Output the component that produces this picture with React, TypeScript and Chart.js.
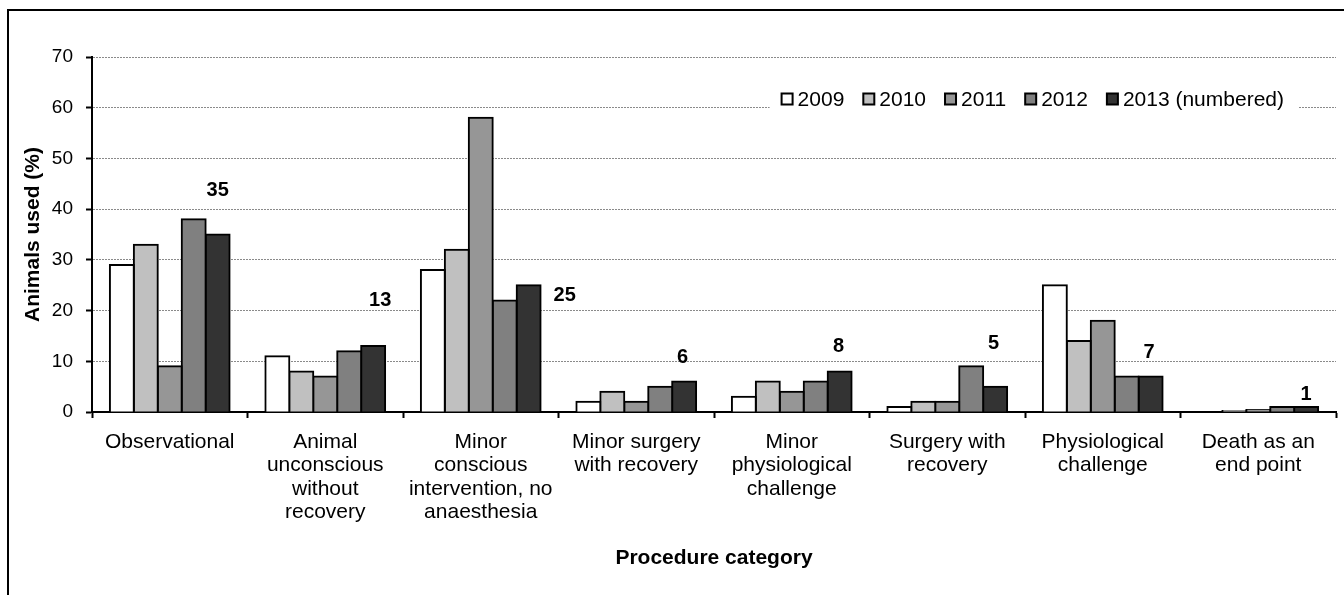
import React, { useEffect, useRef } from "react";
import { Chart, registerables } from "chart.js";

Chart.register(...registerables);

const categories: (string | string[])[] = [
  "Observational",
  ["Animal", "unconscious", "without", "recovery"],
  ["Minor", "conscious", "intervention, no", "anaesthesia"],
  ["Minor surgery", "with recovery"],
  ["Minor", "physiological", "challenge"],
  ["Surgery with", "recovery"],
  ["Physiological", "challenge"],
  ["Death as an", "end point"],
];

const seriesNames = ["2009", "2010", "2011", "2012", "2013 (numbered)"];

const values2009 = [29, 11, 28, 2, 3, 1, 25, 0];
const values2010 = [33, 8, 32, 4, 6, 2, 14, 0.2];
const values2011 = [9, 7, 58, 2, 4, 2, 18, 0.4];
const values2012 = [38, 12, 22, 5, 6, 9, 7, 1];
const values2013 = [35, 13, 25, 6, 8, 5, 7, 1];

const yTickValues = [0, 10, 20, 30, 40, 50, 60, 70];

const yTitle = "Animals used (%)";
const xTitle = "Procedure category";

const seriesColors = ["#FFFFFF", "#C0C0C0", "#969696", "#808080", "#333333"];

// pixel offsets of the numbered labels relative to the top-centre of each 2013 bar
const labelOffsets: [number, number][] = [
  [0, -44],
  [7, -46],
  [36, 10],
  [-1.5, -24],
  [-1, -24.5],
  [-1.5, -43],
  [-1.5, -24.5],
  [0, -12],
];

const FONT = "'Liberation Sans', Arial, Helvetica, sans-serif";

const framePlugin = {
  id: "frame",
  beforeDraw(chart: any) {
    const ctx = chart.ctx;
    ctx.save();
    ctx.fillStyle = "#FFFFFF";
    ctx.fillRect(0, 0, chart.width, chart.height);
    ctx.strokeStyle = "#000";
    ctx.lineWidth = 2;
    ctx.beginPath();
    ctx.moveTo(8, chart.height + 2);
    ctx.lineTo(8, 10);
    ctx.lineTo(chart.width + 2, 10);
    ctx.stroke();
    ctx.restore();
  },
};

const labelsPlugin = {
  id: "numberLabels",
  afterDatasetsDraw(chart: any) {
    const ctx = chart.ctx;
    const meta = chart.getDatasetMeta(4);
    ctx.save();
    ctx.font = `bold 20px ${FONT}`;
    ctx.fillStyle = "#000";
    ctx.textAlign = "center";
    ctx.textBaseline = "middle";
    meta.data.forEach((bar: any, i: number) => {
      const [dx, dy] = labelOffsets[i];
      ctx.fillText(String(values2013[i]), bar.x + dx, bar.y + dy);
    });
    ctx.restore();
  },
};

const legendPlugin = {
  id: "insideLegend",
  afterDraw(chart: any) {
    const ctx = chart.ctx;
    const area = chart.chartArea;
    const ds = chart.data.datasets;
    ctx.save();
    ctx.font = `21px ${FONT}`;
    const box = 11;
    const gapBoxText = 5;
    const gapItem = 19;
    const widths = ds.map((d: any) => ctx.measureText(d.label).width);
    let total = 0;
    widths.forEach((w: number, i: number) => {
      total += box + gapBoxText + w + (i < widths.length - 1 ? gapItem : 0);
    });
    const right = area.right - 52;
    const left = right - total;
    const cy = 99;
    ctx.fillStyle = "#FFFFFF";
    ctx.fillRect(left - 12, cy - 13, total + 12 + 15, 26);
    let x = left;
    ds.forEach((d: any, i: number) => {
      ctx.fillStyle = d.backgroundColor;
      ctx.strokeStyle = "#000";
      ctx.lineWidth = 2;
      ctx.beginPath();
      ctx.rect(x, cy - box / 2, box, box);
      ctx.fill();
      ctx.stroke();
      ctx.fillStyle = "#000";
      ctx.textAlign = "left";
      ctx.textBaseline = "middle";
      ctx.fillText(d.label, x + box + gapBoxText, cy + 1);
      x += box + gapBoxText + widths[i] + gapItem;
    });
    ctx.restore();
  },
};

const titlesPlugin = {
  id: "axisTitles",
  afterDraw(chart: any) {
    const ctx = chart.ctx;
    const area = chart.chartArea;
    ctx.save();
    ctx.font = `bold 21px ${FONT}`;
    ctx.fillStyle = "#000";
    ctx.textAlign = "center";
    ctx.textBaseline = "middle";
    ctx.fillText(xTitle, (area.left + area.right) / 2, 558);
    ctx.translate(33, (area.top + area.bottom) / 2);
    ctx.rotate(-Math.PI / 2);
    ctx.fillText(yTitle, 0, 0);
    ctx.restore();
  },
};

export default function App() {
  const canvasRef = useRef<HTMLCanvasElement | null>(null);

  useEffect(() => {
    const canvas = canvasRef.current;
    if (!canvas) return;
    const seriesValues = [values2009, values2010, values2011, values2012, values2013];
    const chart = new Chart(canvas, {
      type: "bar",
      data: {
        labels: categories,
        datasets: seriesNames.map((name, i) => ({
          label: name,
          data: seriesValues[i],
          backgroundColor: seriesColors[i],
          borderColor: "#000000",
          borderWidth: 2,
          inflateAmount: 1,
          barPercentage: 1,
          categoryPercentage: 0.77,
        })),
      },
      options: {
        responsive: false,
        animation: false,
        devicePixelRatio: 1,
        layout: { padding: { top: 57, right: 8, left: 0, bottom: 0 } },
        plugins: {
          legend: { display: false },
          tooltip: { enabled: false },
          title: { display: false },
        },
        scales: {
          x: {
            offset: true,
            grid: {
              display: true,
              offset: true,
              drawOnChartArea: false,
              drawTicks: true,
              tickLength: 6,
              tickColor: "#000",
              tickWidth: 2,
            },
            border: { display: true, color: "#000", width: 2 },
            ticks: {
              color: "#000",
              font: { family: FONT, size: 21, lineHeight: 1.12 },
              padding: 12,
              maxRotation: 0,
              minRotation: 0,
              autoSkip: false,
            },
            afterFit(scale: any) {
              scale.height = 183;
            },
          },
          y: {
            min: 0,
            max: 70,
            afterBuildTicks(scale: any) {
              scale.ticks = yTickValues.map((v) => ({ value: v }));
            },
            grid: {
              display: true,
              color: "#8a8a8a",
              lineWidth: 1,
              drawTicks: true,
              tickLength: 6,
              tickColor: "#000",
              tickWidth: 2,
              tickBorderDash: [],
            },
            border: { display: true, color: "#000", width: 2, dash: [2, 1] },
            ticks: {
              color: "#000",
              font: { family: FONT, size: 19 },
              padding: 13,
            },
            afterFit(scale: any) {
              scale.width = 92;
            },
          },
        },
      },
      plugins: [framePlugin, labelsPlugin, legendPlugin, titlesPlugin],
    } as any);
    return () => chart.destroy();
  }, []);

  return (
    <div style={{ position: "fixed", left: 0, top: 0, width: 1344, height: 595, background: "#fff" }}>
      <canvas ref={canvasRef} width={1344} height={595} style={{ display: "block" }} />
    </div>
  );
}
